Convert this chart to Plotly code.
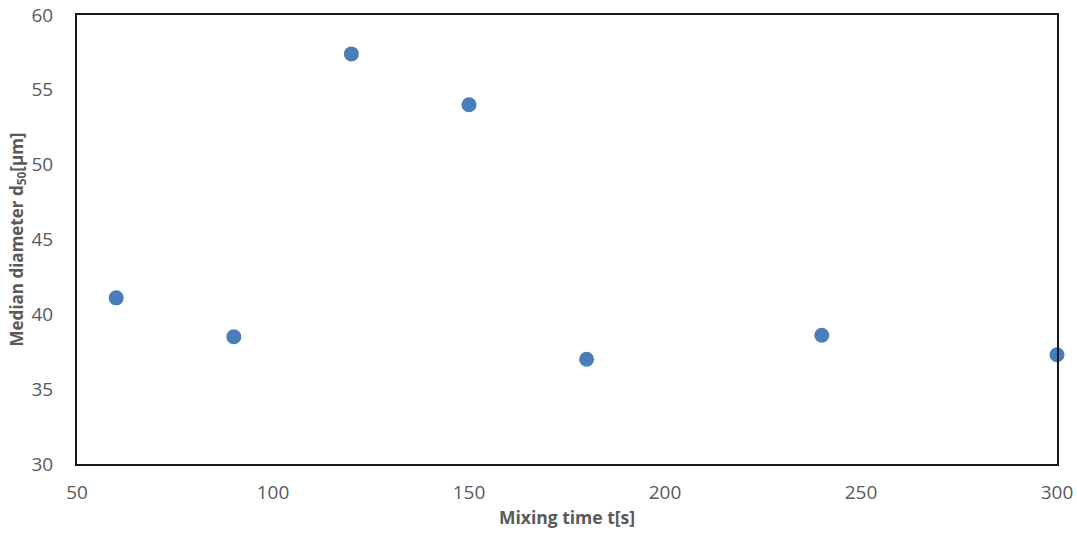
import plotly.graph_objects as go

mixing_time = [60, 90, 120, 150, 180, 240, 300]
median_d50 = [41.1, 38.5, 57.4, 54.0, 37.0, 38.6, 37.3]

FONT = "Open Sans, Liberation Sans, sans-serif"

fig = go.Figure()
fig.add_trace(go.Scatter(
    x=mixing_time, y=median_d50, mode="markers",
    marker=dict(color="#4A7EBB", size=15),
    cliponaxis=False, showlegend=False,
))

axis_common = dict(
    showgrid=False, zeroline=False, showline=True, mirror=True,
    linecolor="#1a1a1a", linewidth=2, ticks="", automargin=False,
    tickfont=dict(family=FONT, size=19, color="#595959"),
)

fig.update_layout(
    width=1077, height=538,
    paper_bgcolor="white", plot_bgcolor="white",
    margin=dict(l=77, r=20, t=15, b=74),
    xaxis=dict(range=[50, 300], dtick=50, ticklabelstandoff=10,
               title=dict(text="<b>Mixing time t[s]</b>", standoff=8,
                          font=dict(family=FONT, size=17.5, color="#595959")),
               **axis_common),
    yaxis=dict(range=[30, 60], dtick=5, ticklabelstandoff=18,
               title=dict(text="<b>Median diameter d<sub>50</sub>[µm]</b>", standoff=4,
                          font=dict(family=FONT, size=17, color="#595959")),
               **axis_common),
)

fig.write_html("out.html", config={"displayModeBar": False},
               post_script="document.body.style.margin='0';document.body.style.overflow='hidden';")
